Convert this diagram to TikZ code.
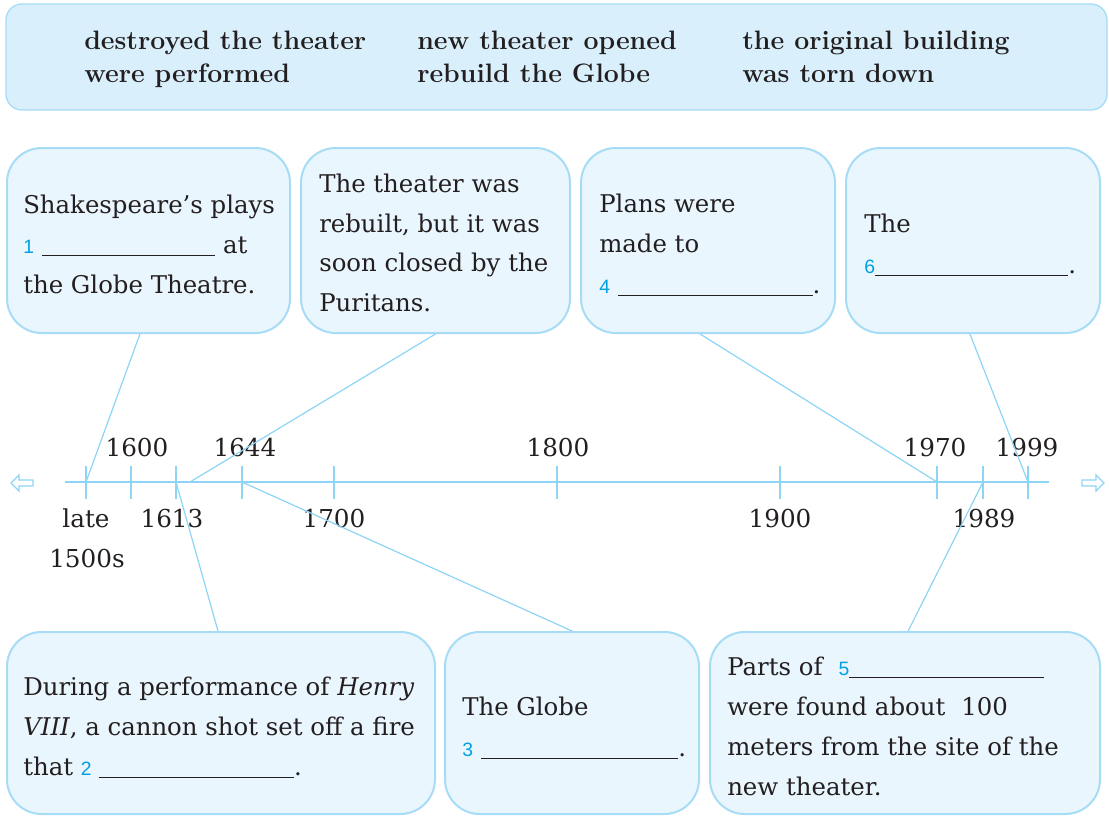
\documentclass[tikz,border=0pt]{standalone}
\usepackage{fontspec}
\usetikzlibrary{fit,calc}
\newfontfamily\numfont{Liberation Sans}
\newfontfamily\bodyfont{DejaVu Serif}
\definecolor{boxfill}{HTML}{EAF6FD}
\definecolor{bankfill}{HTML}{D9F0FC}
\definecolor{boxline}{HTML}{A6DCF5}
\definecolor{tline}{HTML}{8ED4F5}
\definecolor{txt}{HTML}{231F20}
\definecolor{numcol}{HTML}{00A0E3}
\newcommand{\nm}[1]{{\numfont\fontsize{14.5}{16}\selectfont\color{numcol}#1}}
\newcommand{\blank}[1]{\rule[-2.5pt]{#1}{0.8pt}}
\tikzset{
  box/.style={draw=boxline, fill=boxfill, line width=1.5pt, rounded corners=26pt, inner sep=0pt},
  bank/.style={draw=boxline, fill=bankfill, line width=1pt, rounded corners=12pt, inner sep=0pt},
  tx/.style={anchor=base west, inner sep=0pt, text=txt, font=\bodyfont\fontsize{18.3}{22}\selectfont},
  bk/.style={anchor=base west, inner sep=0pt, text=txt, font=\fontsize{20}{24}\selectfont\bfseries},
  yr/.style={anchor=base, inner sep=0pt, text=txt, font=\bodyfont\fontsize{18.5}{22}\selectfont},
  conn/.style={draw=tline, line width=0.9pt},
  tick/.style={draw=tline, line width=0.9pt},
  harrow/.style={draw=tline, fill=white, line width=1pt, line join=miter}
}
\begin{document}
\begin{tikzpicture}[x=0.75pt,y=-0.75pt]
\useasboundingbox (0,0) rectangle (1109,817);
% word bank
\node[bank, fit={(6,4)(1107,110)}] (bankbox) {};
\node[bk] (b1) at (84,50) {destroyed the theater};
\node[bk] (b2) at (84,83) {were performed};
\node[bk] (b3) at (417,50) {new theater opened};
\node[bk] (b4) at (417,83) {rebuild the Globe};
\node[bk] (b5) at (742,50) {the original building};
\node[bk] (b6) at (742,83) {was torn down};
% boxes
\node[box, fit={(7,148)(290,333)}] (box1) {};
\node[box, fit={(301,148)(570,333)}] (box2) {};
\node[box, fit={(581,148)(835,333)}] (box3) {};
\node[box, fit={(846,148)(1100,333)}] (box4) {};
\node[box, fit={(7,632)(435,814)}] (box5) {};
\node[box, fit={(445,632)(699,814)}] (box6) {};
\node[box, fit={(710,632)(1100,814)}] (box7) {};
% box texts
\node[tx] (t1a) at (23,213) {Shakespeare’s plays};
\node[tx] (t1b) at (23,253) {\nm{1}\hspace{6pt}\blank{130pt}\ at};
\node[tx] (t1c) at (23,293) {the Globe Theatre.};
\node[tx] (t2a) at (319,192) {The theater was};
\node[tx] (t2b) at (319,232) {rebuilt, but it was};
\node[tx] (t2c) at (319,271) {soon closed by the};
\node[tx] (t2d) at (319,311) {Puritans.};
\node[tx] (t3a) at (599,212) {Plans were};
\node[tx] (t3b) at (599,252) {made to};
\node[tx] (t3c) at (599,293) {\nm{4}\hspace{6pt}\blank{146pt}.};
\node[tx] (t4a) at (864,232) {The};
\node[tx] (t4b) at (864,273) {\nm{6}\blank{145pt}.};
\node[tx] (t5a) at (23,695) {During a performance of \textit{Henry}};
\node[tx] (t5b) at (23,735) {\textit{VIII}, a cannon shot set off a fire};
\node[tx] (t5c) at (23,775) {that \nm{2} \blank{146pt}.};
\node[tx] (t6a) at (462,715) {The Globe};
\node[tx] (t6b) at (462,756) {\nm{3}\hspace{6pt}\blank{148pt}.};
\node[tx] (t7a) at (727,675) {Parts of\hspace{12pt}\nm{5}\blank{146pt}};
\node[tx] (t7b) at (727,715) {were found about\hspace{12pt}100};
\node[tx] (t7c) at (727,755) {meters from the site of the};
\node[tx] (t7d) at (727,795) {new theater.};
% timeline
\coordinate (tl0) at (65,482);
\coordinate (tl1) at (1049,482);
\draw[tick] (tl0) -- (tl1);
\foreach \n/\x in {a/86,b/131,c/176,d/242,e/334,f/557,g/780,h/937,i/983,j/1028}{
  \coordinate (k\n) at (\x,482);
  \draw[tick] (\x,466) -- (\x,499);
}
\draw[harrow] (11,483) -- (19,475) -- (19,480) -- (33,480) -- (33,486) -- (19,486) -- (19,491) -- cycle;
\draw[harrow] (1104,483) -- (1096,475) -- (1096,480) -- (1082,480) -- (1082,486) -- (1096,486) -- (1096,491) -- cycle;
% year labels
\node[yr] (y1600) at (137,456) {1600};
\node[yr] (y1644) at (245,456) {1644};
\node[yr] (y1800) at (558,456) {1800};
\node[yr] (y1970) at (935,456) {1970};
\node[yr] (y1999) at (1027,456) {1999};
\node[yr] (ylate) at (86,527) {late};
\node[yr] (y1500) at (87,567) {1500s};
\node[yr] (y1613) at (172,527) {1613};
\node[yr] (y1700) at (334,527) {1700};
\node[yr] (y1900) at (780,527) {1900};
\node[yr] (y1989) at (984,527) {1989};
% connectors
\draw[conn] ($(box1.south west)!0.47!(box1.south east)$) -- (ka);
\draw[conn] (box2.south) -- (190,482);
\draw[conn] ($(box3.south west)!0.469!(box3.south east)$) -- (kh);
\draw[conn] ($(box4.south west)!0.488!(box4.south east)$) -- (kj);
\draw[conn] ($(box5.north west)!0.493!(box5.north east)$) -- (kc);
\draw[conn] (box6.north) -- (kd);
\draw[conn] ($(box7.north west)!0.508!(box7.north east)$) -- (ki);
\end{tikzpicture}
\end{document}
